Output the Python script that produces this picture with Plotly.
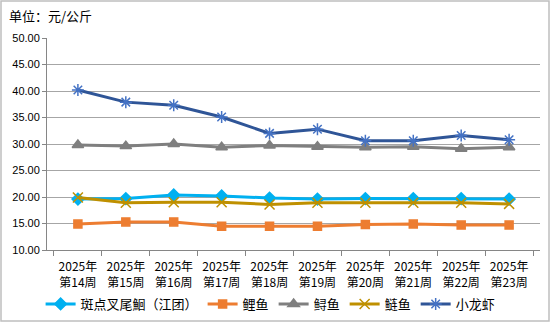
import plotly.graph_objects as go

weeks = ["2025年<br>第14周", "2025年<br>第15周", "2025年<br>第16周", "2025年<br>第17周", "2025年<br>第18周",
         "2025年<br>第19周", "2025年<br>第20周", "2025年<br>第21周", "2025年<br>第22周", "2025年<br>第23周"]
catfish = [19.6, 19.7, 20.4, 20.2, 19.8, 19.6, 19.7, 19.7, 19.7, 19.6]
carp = [14.9, 15.3, 15.3, 14.5, 14.5, 14.5, 14.8, 14.9, 14.7, 14.7]
sturgeon = [29.8, 29.6, 30.0, 29.4, 29.7, 29.5, 29.4, 29.5, 29.1, 29.4]
silver_carp = [19.9, 18.9, 19.0, 19.0, 18.6, 18.9, 18.9, 18.9, 18.9, 18.7]
crayfish = [40.2, 37.9, 37.3, 35.1, 32.0, 32.8, 30.6, 30.6, 31.6, 30.8]

series = [
    ("斑点叉尾鮰（江团）", catfish, "#00B0F0", "#00B0F0", "diamond", 9),
    ("鲤鱼", carp, "#ED7D31", "#ED7D31", "square", 8),
    ("鲟鱼", sturgeon, "#7F7F7F", "#7F7F7F", "triangle-up", 10),
    ("鲢鱼", silver_carp, "#BF9000", "#BF9000", "x-thin", 10),
    ("小龙虾", crayfish, "#2F5597", "#4472C4", "asterisk", 10),
]

fig = go.Figure()
for name, vals, lc, mc, sym, sz in series:
    fig.add_trace(go.Scatter(
        x=weeks, y=vals, name=name, mode="lines+markers",
        line=dict(color=lc, width=3),
        marker=dict(symbol=sym, size=sz, color=mc, line=dict(color=mc, width=1.5)),
    ))

cjk = "'Noto Sans CJK SC', sans-serif"
fig.update_layout(
    width=550, height=322,
    margin=dict(l=47, r=10, t=38, b=72),
    paper_bgcolor="white", plot_bgcolor="white",
    font=dict(family=cjk, size=11, color="#000000"),
    showlegend=True,
    legend=dict(orientation="h", x=0.492, xanchor="center", xref="container",
                y=18 / 322, yref="container", yanchor="middle",
                bgcolor="rgba(0,0,0,0)",
                font=dict(size=13, family=cjk), tracegroupgap=0,
                itemwidth=30),
)
fig.add_annotation(text="单位：元/公斤", xref="paper", yref="paper", x=-40 / 493, y=1 + 22 / 212,
                   xanchor="left", yanchor="middle", showarrow=False,
                   font=dict(size=13, family=cjk))
fig.add_shape(type="rect", xref="paper", yref="paper", x0=-46 / 493, y0=-71 / 212,
              x1=1 + 9 / 493, y1=1 + 37 / 212,
              line=dict(color="#BFBFBF", width=1.5))

fig.update_xaxes(
    type="category", tickson="boundaries", ticks="outside", ticklen=5, tickcolor="#868686",
    showline=True, linecolor="#868686", linewidth=1, showgrid=False, automargin=False,
    ticklabelstandoff=6,
    tickfont=dict(size=12, family=cjk),
)
fig.update_yaxes(
    range=[10, 50], dtick=5, tickformat=".2f", ticks="outside", ticklen=4, tickcolor="#868686",
    showline=True, linecolor="#868686", linewidth=1, automargin=False,
    showgrid=True, gridcolor="#A6A6A6", gridwidth=1, zeroline=False,
    tickfont=dict(size=11, family="'Liberation Sans', Arial, sans-serif"),
)

fig.write_html("out.html")
